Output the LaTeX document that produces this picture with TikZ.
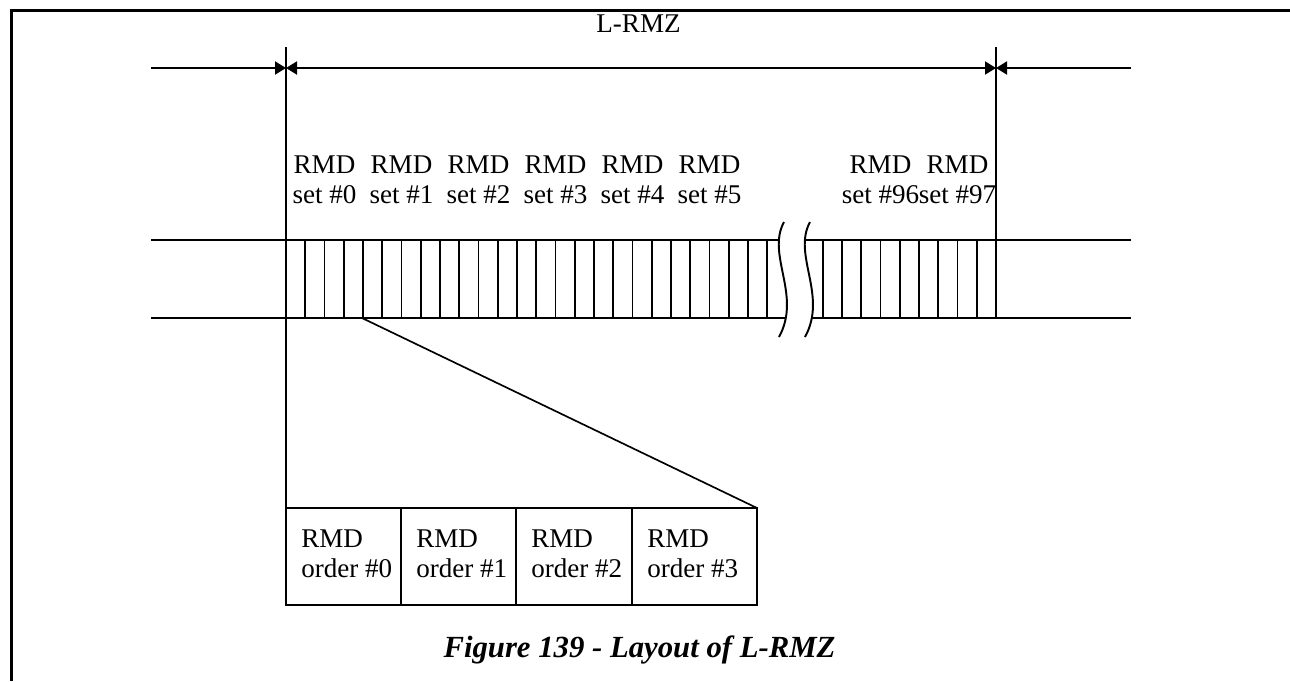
\documentclass[tikz,border=0pt]{standalone}
\usepackage{fontspec}
\setmainfont{Liberation Serif}
\usetikzlibrary{arrows.meta}

\begin{document}
\begin{tikzpicture}[x=0.02cm,y=-0.02cm,>={Triangle[length=0.22cm,width=0.26cm]},
    dimline/.style={line width=1.1pt},
    cellline/.style={line width=0.95pt},
    setline/.style={line width=1.5pt},
    lbl/.style={font=\fontsize{15.4}{17}\selectfont, inner sep=0pt}]

    \useasboundingbox (0,0) rectangle (1290,681);

    % 1. Marco de la página
    \draw[line width=1.7pt] (11.3,681) -- (11.3,10.8) -- (1290,10.8);

    % 2. Cota L-RMZ
    \coordinate (lft) at (286,68);
    \coordinate (rgt) at (996,68);
    \coordinate (farlft) at (151,68);
    \coordinate (farrgt) at (1131,68);
    \draw[dimline] (286,47) -- (286,605);
    \draw[dimline] (996,47) -- (996,318);
    \draw[dimline,->] (farlft) -- (lft);
    \draw[dimline,<->] (lft) -- (rgt);
    \draw[dimline,->] (farrgt) -- (rgt);
    \node[lbl, anchor=base] (lrmz) at (638.5,32) {L-RMZ};

    % 3. Banda de RMD sets
    % Líneas exteriores
    \draw[dimline] (151,240) -- (286,240);
    \draw[dimline] (151,318) -- (286,318);
    \draw[dimline] (996,240) -- (1131,240);
    \draw[dimline] (996,318) -- (1131,318);

    % Parte izquierda (sets #0 a #5)
    \begin{scope}
        \clip (270,200) -- (784,200) -- (784,222) .. controls (766,255) and (802,295) .. (779,337) -- (779,350) -- (270,350) -- cycle;
        \draw[setline] (286,240) -- (800,240);
        \draw[setline] (286,318) -- (800,318);
        \foreach \i in {1,...,25} {
            \draw[cellline] ({286+19.25*\i},240) -- ++(0,78);
        }
        \foreach \i in {0,...,6} {
            \draw[setline] ({286+77*\i},240) -- ++(0,78);
        }
    \end{scope}

    % Parte derecha (sets #96 y #97)
    \begin{scope}
        \clip (1010,200) -- (810,200) -- (810,222) .. controls (792,255) and (828,295) .. (805,337) -- (805,350) -- (1010,350) -- cycle;
        \draw[setline] (790,240) -- (996,240);
        \draw[setline] (790,318) -- (996,318);
        \foreach \i in {1,...,9} {
            \draw[cellline] ({996-19.25*\i},240) -- ++(0,78);
        }
        \foreach \i in {0,1,2} {
            \draw[setline] ({996-77*\i},240) -- ++(0,78);
        }
    \end{scope}

    % Marcas de corte
    \draw[dimline] (784,222) .. controls (766,255) and (802,295) .. (779,337);
    \draw[dimline] (810,222) .. controls (792,255) and (828,295) .. (805,337);

    % Etiquetas de los sets
    \foreach \k in {0,...,5} {
        \node[lbl, anchor=base] (rmd\k) at ({324.5+77*\k},173) {RMD};
        \node[lbl, anchor=base] (set\k) at ({324.5+77*\k},203) {set \#\k};
    }
    \node[lbl, anchor=base] (rmd96) at (880.5,173) {RMD};
    \node[lbl, anchor=base] (set96) at (880.5,203) {set \#96};
    \node[lbl, anchor=base] (rmd97) at (957.5,173) {RMD};
    \node[lbl, anchor=base] (set97) at (957.5,203) {set \#97};

    % 4. Detalle del RMD set #0
    \coordinate (setend) at (362,318);
    \coordinate (boxend) at (757,508);
    \draw[cellline] (setend) -- (boxend);
    \draw[setline] (286,508) rectangle (boxend |- 0,605);
    \foreach \x in {401,516,632} {
        \draw[setline] (\x,508) -- (\x,605);
    }
    \foreach \x [count=\k from 0] in {286,401,516,632} {
        \node[lbl, anchor=base west] (ordrmd\k) at (\x+15,547) {RMD};
        \node[lbl, anchor=base west] (ord\k) at (\x+15,577) {order \#\k};
    }

    % 5. Título
    \node[anchor=base, inner sep=0pt, font=\fontsize{17.5}{20}\selectfont\bfseries\itshape] (caption) at (639.5,657) {Figure 139 - Layout of L-RMZ};

\end{tikzpicture}
\end{document}
